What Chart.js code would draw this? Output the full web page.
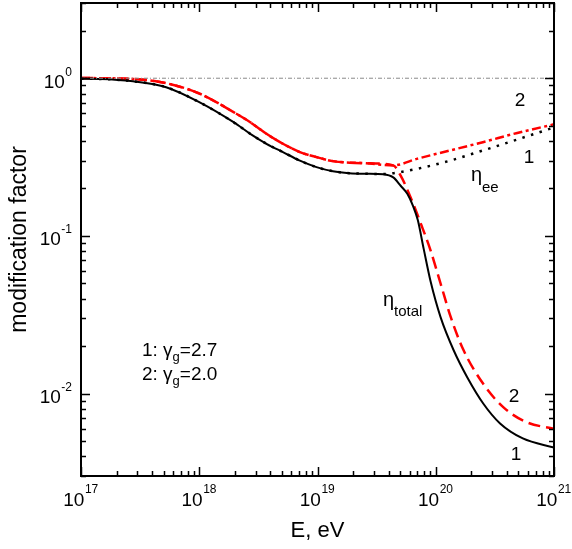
<!DOCTYPE html>
<html><head><meta charset="utf-8">
<script src="https://cdn.jsdelivr.net/npm/chart.js@4.4.0/dist/chart.umd.min.js"></script>
<style>html,body{margin:0;padding:0;background:#fff;}#wrap{width:572px;height:549px;position:relative;}</style>
</head><body><div id="wrap"><canvas id="c" width="572" height="549" style="width:572px;height:549px"></canvas></div>
<script>
// ---- data ----
const energyTotal27 = [1e17,1.45e17,2.75e17,5.25e17,1e18,1.95e18,2.7e18,3.7e18,5.1e18,7.1e18,9.8e18,1.35e19,1.86e19,2.57e19,3.6e19,4.37e19,5.05e19,5.75e19,6.42e19,7.05e19,7.9e19,9.05e19,1.1e20,1.42e20,1.85e20,2.52e20,3.5e20,5.45e20,1e21];
const valueTotal27  = [0.993,0.99,0.957,0.877,0.705,0.526,0.444,0.384,0.34,0.30,0.273,0.257,0.25,0.248,0.246,0.235,0.208,0.185,0.155,0.126,0.083,0.0513,0.0304,0.01875,0.01265,0.00865,0.00646,0.00519,0.00455];

const energyEe27 = [1e17,1.45e17,2.75e17,5.25e17,1e18,1.95e18,2.7e18,3.7e18,5.1e18,7.1e18,9.8e18,1.35e19,1.86e19,2.57e19,3.6e19,4.4e19,6.9e19,1.32e20,2.5e20,4.8e20,1e21];
const valueEe27  = [0.993,0.99,0.957,0.877,0.705,0.526,0.444,0.384,0.34,0.30,0.273,0.257,0.25,0.248,0.247,0.25,0.266,0.30,0.348,0.407,0.487];

const energyEe20 = [1e17,1.45e17,2.75e17,5.25e17,1e18,1.95e18,2.7e18,3.7e18,5.1e18,7.1e18,9.8e18,1.35e19,2.57e19,4.4e19,6.9e19,1.32e20,2.5e20,4.8e20,1e21];
const valueEe20  = [1.005,1.0,0.99,0.93,0.80,0.61,0.526,0.444,0.384,0.34,0.316,0.298,0.289,0.28,0.308,0.348,0.393,0.448,0.51];

const energyTotal20 = [1e17,1.45e17,2.75e17,5.25e17,1e18,1.95e18,2.7e18,3.7e18,5.1e18,7.1e18,9.8e18,1.35e19,2.57e19,4.37e19,5.05e19,6.12e19,7.5e19,9.05e19,1.1e20,1.34e20,1.72e20,2.52e20,3.72e20,5.85e20,1e21];
const valueTotal20  = [1.005,1.0,0.99,0.93,0.80,0.61,0.526,0.444,0.384,0.34,0.316,0.298,0.289,0.28,0.241,0.176,0.119,0.0807,0.0497,0.0305,0.0188,0.01153,0.0082,0.00659,0.00598];

const energyUnity = [1e17,1e21];
const valueUnity  = [1,1];

const xTickValues = [1e17,2e17,3e17,4e17,5e17,6e17,7e17,8e17,9e17,1e18,2e18,3e18,4e18,5e18,6e18,7e18,8e18,9e18,1e19,2e19,3e19,4e19,5e19,6e19,7e19,8e19,9e19,1e20,2e20,3e20,4e20,5e20,6e20,7e20,8e20,9e20,1e21];
const yTickValues = [3e-3,4e-3,5e-3,6e-3,7e-3,8e-3,9e-3,1e-2,2e-2,3e-2,4e-2,5e-2,6e-2,7e-2,8e-2,9e-2,0.1,0.2,0.3,0.4,0.5,0.6,0.7,0.8,0.9,1,2,3];

const xTitle = 'E, eV';
const yTitle = 'modification factor';

// ---- helpers ----
const isDecade = v => Math.abs(Math.log10(v) - Math.round(Math.log10(v))) < 1e-6;
const expOf = v => String(Math.round(Math.log10(v)));
const pts = (xs, ys) => xs.map((e,i)=>({x:e,y:ys[i]}));
const FONT = '"Liberation Sans", Arial, Helvetica, sans-serif';

const decorations = {
  id:'decorations',
  afterDraw(chart){
    const {ctx, chartArea:a, scales:{x,y}} = chart;
    ctx.save();
    ctx.strokeStyle = '#000';
    ctx.lineWidth = 1.5;
    ctx.beginPath();
    x.ticks.forEach(t=>{
      const p = Math.round(x.getPixelForValue(t.value)) + 0.5;
      const L = isDecade(t.value) ? 9 : 5;
      ctx.moveTo(p, a.bottom); ctx.lineTo(p, a.bottom - L);
      ctx.moveTo(p, a.top); ctx.lineTo(p, a.top + L);
    });
    y.ticks.forEach(t=>{
      const p = Math.round(y.getPixelForValue(t.value)) + 0.5;
      const L = isDecade(t.value) ? 9 : 5;
      ctx.moveTo(a.left, p); ctx.lineTo(a.left + L, p);
      ctx.moveTo(a.right, p); ctx.lineTo(a.right - L, p);
    });
    ctx.stroke();
    ctx.lineWidth = 2;
    ctx.strokeRect(a.left, a.top, a.right - a.left, a.bottom - a.top);

    ctx.fillStyle = '#000';
    ctx.textBaseline = 'alphabetic';
    ctx.textAlign = 'left';
    const big = '19px ' + FONT, small = '12px ' + FONT;
    x.ticks.forEach(t=>{
      if (!isDecade(t.value)) return;
      const p = x.getPixelForValue(t.value);
      ctx.font = big; const w1 = ctx.measureText('10').width;
      ctx.font = small; const e = expOf(t.value); const w2 = ctx.measureText(e).width;
      const x0 = p - (w1 + w2) / 2 - 0.5;
      ctx.font = big; ctx.fillText('10', x0, a.bottom + 30);
      ctx.font = small; ctx.fillText(e, x0 + w1 + 0.5, a.bottom + 17);
    });
    y.ticks.forEach(t=>{
      if (!isDecade(t.value)) return;
      const p = y.getPixelForValue(t.value);
      ctx.font = small; const e = expOf(t.value); const w2 = ctx.measureText(e).width;
      ctx.font = big; const w1 = ctx.measureText('10').width;
      const right = a.left - 9;
      ctx.font = small; ctx.fillText(e, right - w2, p - 2.5);
      ctx.font = big; ctx.fillText('10', right - w2 - w1 - 0.5, p + 9.3);
    });

    // curve labels
    ctx.textBaseline = 'middle';
    ctx.textAlign = 'center';
    ctx.font = '19px ' + FONT;
    ctx.fillText('2', 520, 101);
    ctx.fillText('1', 529, 158);
    ctx.fillText('2', 514, 397);
    ctx.fillText('1', 516, 455);

    ctx.textAlign = 'left';
    ctx.textBaseline = 'alphabetic';
    ctx.font = '20px ' + FONT; ctx.fillText('η', 471, 181);
    ctx.font = '15px ' + FONT; ctx.fillText('ee', 482, 192);
    ctx.font = '20px ' + FONT; ctx.fillText('η', 383, 306);
    ctx.font = '15px ' + FONT; ctx.fillText('total', 394, 316);

    const note = (num, val, yb) => {
      let cx = 142;
      ctx.font = '19px ' + FONT;
      ctx.fillText(num + ': ', cx, yb); cx += ctx.measureText(num + ': ').width;
      ctx.fillText('γ', cx, yb); cx += ctx.measureText('γ').width;
      ctx.font = '13px ' + FONT;
      ctx.fillText('g', cx, yb + 5); cx += ctx.measureText('g').width;
      ctx.font = '19px ' + FONT;
      ctx.fillText('=' + val, cx, yb);
    };
    note('1', '2.7', 356);
    note('2', '2.0', 380);
    ctx.restore();
  }
};

new Chart(document.getElementById('c'), {
  type: 'line',
  data: {
    datasets: [
      {data: pts(energyUnity, valueUnity), borderColor:'#8a8a8a', borderWidth:1, borderDash:[4,2,1,2]},
      {data: pts(energyEe27, valueEe27), borderColor:'#000', borderWidth:2.5, borderDash:[2.5,6.5]},
      {data: pts(energyTotal27, valueTotal27), borderColor:'#000', borderWidth:2},
      {data: pts(energyEe20, valueEe20), borderColor:'#ff0000', borderWidth:2.5, borderDash:[9,3.5,3,3.5]},
      {data: pts(energyTotal20, valueTotal20), borderColor:'#ff0000', borderWidth:2.5, borderDash:[12,6]}
    ]
  },
  options: {
    responsive: false,
    animation: false,
    devicePixelRatio: 1,
    layout: {padding: {top:3, right:18, left:0, bottom:0}},
    elements: {point:{radius:0}, line:{cubicInterpolationMode:'monotone', fill:false}},
    plugins: {legend:{display:false}, tooltip:{enabled:false}},
    scales: {
      x: {
        type:'logarithmic', min:1e17, max:1e21,
        afterBuildTicks: s => { s.ticks = xTickValues.map(v=>({value:v})); },
        afterFit: s => { s.height = 73; },
        grid:{display:false, drawTicks:false}, border:{display:false},
        ticks:{display:false, autoSkip:false, maxRotation:0},
        title:{display:true, text:xTitle, color:'#000', font:{family:FONT, size:22}, padding:{top:0, bottom:5}}
      },
      y: {
        type:'logarithmic', min:3e-3, max:3,
        afterBuildTicks: s => { s.ticks = yTickValues.map(v=>({value:v})); },
        afterFit: s => { s.width = 81; },
        grid:{display:false, drawTicks:false}, border:{display:false},
        ticks:{display:false, autoSkip:false},
        title:{display:true, text:yTitle, color:'#000', font:{family:FONT, size:23}, padding:{top:6, bottom:0}}
      }
    }
  },
  plugins: [decorations]
});
</script>
</body></html>
